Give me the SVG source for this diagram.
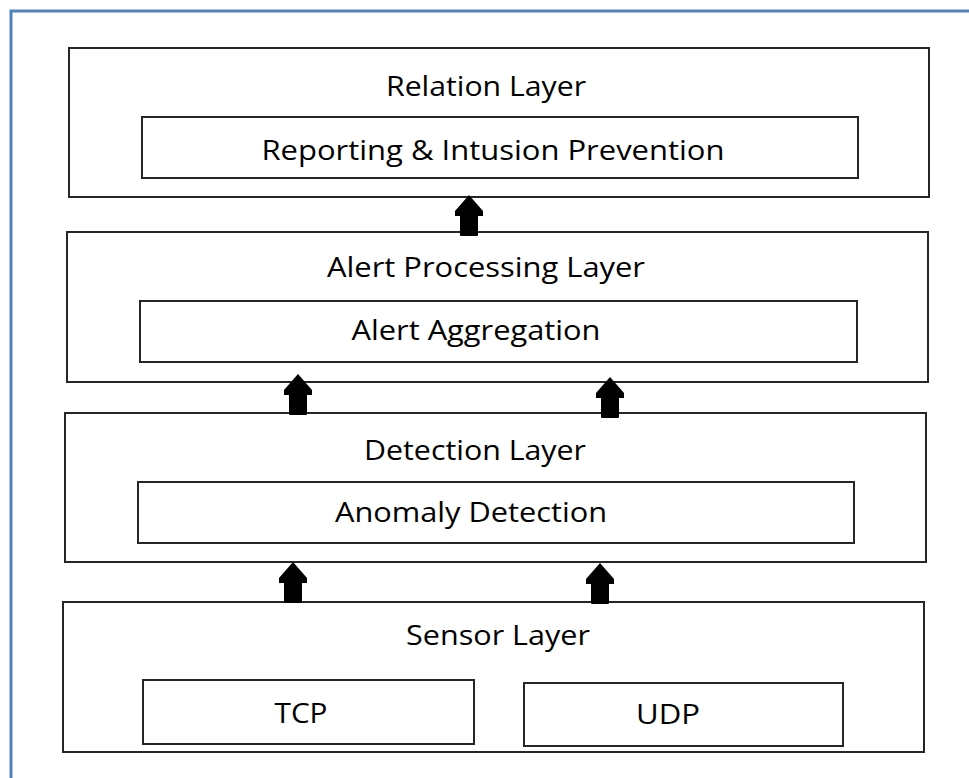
<svg xmlns="http://www.w3.org/2000/svg" width="969" height="778" viewBox="0 0 969 778">
  <style>
    .frame { fill: none; stroke: #4f81bd; stroke-width: 3; }
    .box { fill: #ffffff; stroke: #262626; stroke-width: 2; }
    .label { font-family: "Open Sans", "Liberation Sans", sans-serif; font-size: 27px; fill: #000000; text-anchor: middle; }
    .arrow { fill: #000000; }
  </style>
  <defs>
    <!-- block arrow pointing up, tip at origin -->
    <path id="up-arrow" d="M0,0 L14,16 L14,21 L9,21 L9,40 Q9,41 8,41 L-8,41 Q-9,41 -9,40 L-9,21 L-14,21 L-14,16 Z"/>
  </defs>

  <rect width="969" height="778" fill="#ffffff"/>
  <rect class="frame" x="11" y="11" width="980" height="790"/>

  <g id="relation-layer">
    <rect class="box" x="69" y="48" width="860" height="149"/>
    <text class="label" x="486" y="96" textLength="200" lengthAdjust="spacingAndGlyphs">Relation Layer</text>
  </g>
  <g id="reporting">
    <rect class="box" x="142" y="117" width="716" height="61"/>
    <text class="label" x="493" y="160" textLength="463" lengthAdjust="spacingAndGlyphs">Reporting &amp; Intusion Prevention</text>
  </g>

  <g id="alert-processing-layer">
    <rect class="box" x="67" y="232" width="861" height="150"/>
    <text class="label" x="486" y="277" textLength="318" lengthAdjust="spacingAndGlyphs">Alert Processing Layer</text>
  </g>
  <g id="alert-aggregation">
    <rect class="box" x="140" y="301" width="717" height="61"/>
    <text class="label" x="476" y="340" textLength="249" lengthAdjust="spacingAndGlyphs">Alert Aggregation</text>
  </g>

  <g id="detection-layer">
    <rect class="box" x="65" y="413" width="861" height="149"/>
    <text class="label" x="475" y="460" textLength="222" lengthAdjust="spacingAndGlyphs">Detection Layer</text>
  </g>
  <g id="anomaly-detection">
    <rect class="box" x="138" y="482" width="716" height="61"/>
    <text class="label" x="471" y="522" textLength="272" lengthAdjust="spacingAndGlyphs">Anomaly Detection</text>
  </g>

  <g id="sensor-layer">
    <rect class="box" x="63" y="602" width="861" height="150"/>
    <text class="label" x="498" y="645" textLength="184" lengthAdjust="spacingAndGlyphs">Sensor Layer</text>
  </g>
  <g id="tcp">
    <rect class="box" x="143" y="680" width="331" height="64"/>
    <text class="label" x="301" y="723" textLength="53" lengthAdjust="spacingAndGlyphs">TCP</text>
  </g>
  <g id="udp">
    <rect class="box" x="524" y="683" width="319" height="63"/>
    <text class="label" x="668" y="724" textLength="64" lengthAdjust="spacingAndGlyphs">UDP</text>
  </g>

  <g id="connectors" class="arrow">
    <use href="#up-arrow" x="469" y="195"/>
    <use href="#up-arrow" x="298" y="374"/>
    <use href="#up-arrow" x="610" y="377"/>
    <use href="#up-arrow" x="293" y="562"/>
    <use href="#up-arrow" x="600" y="563"/>
  </g>
</svg>
